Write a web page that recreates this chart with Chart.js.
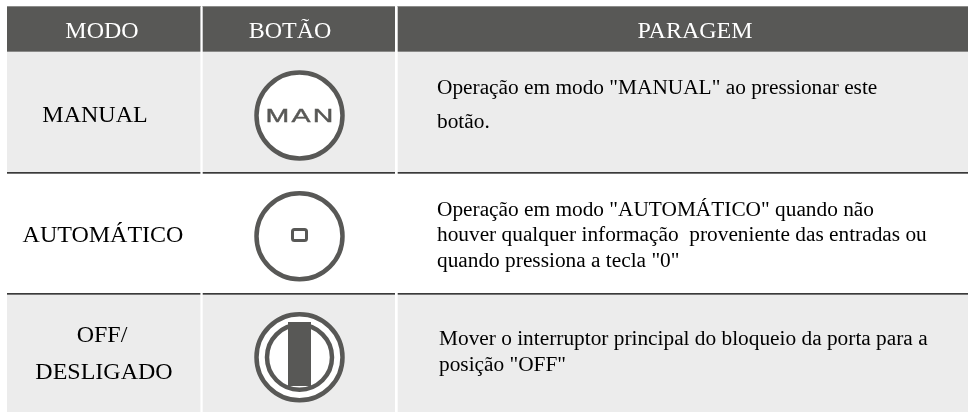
<!DOCTYPE html>
<html><head><meta charset="utf-8">
<style>html,body{margin:0;padding:0;background:#fff}canvas{display:block}</style>
<script src="https://cdn.jsdelivr.net/npm/chart.js@4"></script></head>
<body><canvas id="c" width="968" height="412"></canvas>
<script>
const headers = ["MODO", "BOTÃO", "PARAGEM"];
const modes = [["MANUAL"], ["AUTOMÁTICO"], ["OFF/", "DESLIGADO"]];
const buttons = ["MAN", "square", "switch"];
const descriptions = [
  ['Operação em modo "MANUAL" ao pressionar este', 'botão.'],
  ['Operação em modo "AUTOMÁTICO" quando não', 'houver qualquer informação  proveniente das entradas ou', 'quando pressiona a tecla "0"'],
  ['Mover o interruptor principal do bloqueio da porta para a', 'posição "OFF"']
];

// layout, in the axis units of the full-bleed scales
const colEdges = [[7,200.4],[202.7,395],[397.7,968]];
const headBand = [6,51.7];
const rowBands = [[52,172],[174,293],[295,412]];
const ruleBands = [[172,173.7],[293,294.7]];
const btnX = 299.5, btnY = [115.5,236.3,357.3];
const headText = [{x:102,y:38},{x:290,y:38},{x:695,y:38}];
const modeText = [[{x:95,y:122}],[{x:103,y:242}],[{x:102,y:342},{x:104,y:379}]];
const descX = [437,437,439];
const descY = [[94,128],[216,241,267],[345,371]];
const SERIF = '"Liberation Serif"';

const tablePlugin = {
  id:'table',
  beforeDatasetsDraw(ch){
    const c=ch.ctx,X=v=>ch.scales.x.getPixelForValue(v),Y=v=>ch.scales.y.getPixelForValue(v);
    c.save();
    colEdges.forEach(([a,b])=>{
      c.fillStyle='#585856';c.fillRect(X(a),Y(headBand[0]),X(b)-X(a),Y(headBand[1])-Y(headBand[0]));
      c.fillStyle='#8c8c8a';c.fillRect(X(a),Y(headBand[0]),X(b)-X(a),1);
      [0,2].forEach(i=>{c.fillStyle='#ececec';c.fillRect(X(a),Y(rowBands[i][0]),X(b)-X(a),Y(rowBands[i][1])-Y(rowBands[i][0]));});
      c.fillStyle='#3a3a3a';ruleBands.forEach(([p,q])=>c.fillRect(X(a),Y(p),X(b)-X(a),Y(q)-Y(p)));
    });
    c.restore();
  },
  afterDatasetsDraw(ch){
    const c=ch.ctx,X=v=>ch.scales.x.getPixelForValue(v),Y=v=>ch.scales.y.getPixelForValue(v);
    c.save();
    // switch bar
    c.fillStyle='#585856';c.fillRect(X(288),Y(322),23,Y(386)-Y(322));
    // small square
    c.strokeStyle='#585856';c.lineWidth=3;c.beginPath();c.roundRect(X(292.5),Y(229.5),14,11,2);c.stroke();
    // MAN
    c.save();
    c.translate(X(btnX)+1.1,Y(122));c.scale(1.5,1);c.fillStyle='#585856';c.strokeStyle='#585856';c.lineWidth=0.4;
    c.font='19px "Liberation Sans"';c.textAlign='center';c.letterSpacing='1.5px';
    c.fillText(buttons[0],0,0);c.strokeText(buttons[0],0,0);
    c.restore();
    // texts
    c.textBaseline='alphabetic';
    c.textAlign='center';c.font='24px '+SERIF;c.fillStyle='#ffffff';
    headers.forEach((t,i)=>c.fillText(t,X(headText[i].x),Y(headText[i].y)));
    c.fillStyle='#000000';c.font='24px '+SERIF;
    modes.forEach((ls,i)=>ls.forEach((t,j)=>c.fillText(t,X(modeText[i][j].x),Y(modeText[i][j].y))));
    c.textAlign='left';c.font='21.33px '+SERIF;
    descriptions.forEach((ls,i)=>ls.forEach((t,j)=>c.fillText(t,X(descX[i]),Y(descY[i][j]))));
    c.restore();
  }
};

new Chart(document.getElementById('c'),{
  type:'scatter',
  data:{datasets:[
    {label:'inner ring',data:[{x:btnX,y:btnY[2]}],pointRadius:32.5,pointHoverRadius:32.5,pointBorderWidth:4.5,pointBorderColor:'#585856',pointBackgroundColor:'#ffffff'},
    {label:'outer ring',data:btnY.map(y=>({x:btnX,y})),pointRadius:43,pointHoverRadius:43,pointBorderWidth:4.5,pointBorderColor:'#585856',pointBackgroundColor:'#ffffff'}
  ]},
  options:{
    responsive:false,animation:false,events:[],
    layout:{padding:0,autoPadding:false},
    plugins:{legend:{display:false},tooltip:{enabled:false}},
    scales:{
      x:{type:'linear',min:0,max:968,display:false},
      y:{type:'linear',min:0,max:412,reverse:true,display:false}
    }
  },
  plugins:[tablePlugin]
});
</script></body></html>
